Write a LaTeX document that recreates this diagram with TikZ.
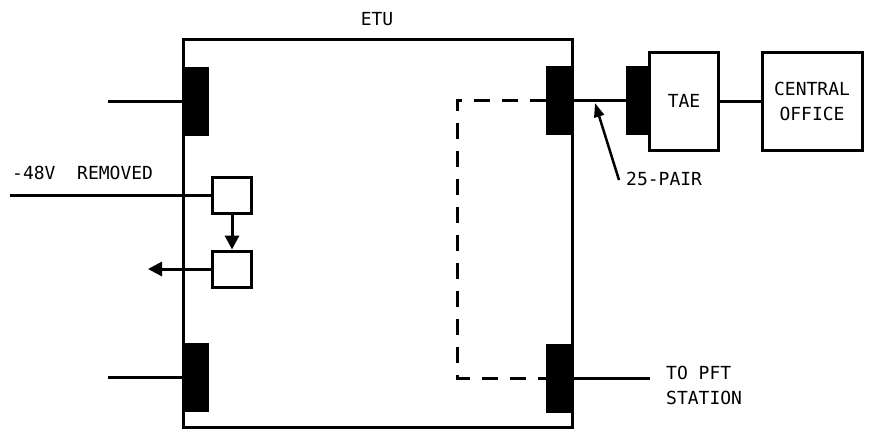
\documentclass[tikz,border=0pt]{standalone}
\usepackage{fontspec}
\setmonofont{DejaVu Sans Mono}
\usetikzlibrary{arrows.meta}
\tikzset{
  box/.style={draw, line width=3pt, inner sep=0pt},
  plug/.style={fill=black, inner sep=0pt, minimum width=26pt, minimum height=69pt},
  wire/.style={line width=3pt},
  lbl/.style={font=\ttfamily\fontsize{18}{25}\selectfont, inner sep=0pt, align=left}
}
\begin{document}
\begin{tikzpicture}[x=1pt, y=-1pt, >={Triangle[length=14pt, width=14pt]}]
\useasboundingbox (0,0) rectangle (874,431);
\node[box, minimum width=389pt, minimum height=388pt] (etu) at (377.5,233) {};
\node[lbl] (etulbl) at (377,19) {ETU};
\node[plug] (plugL1) at (196,101) {};
\node[plug] (plugL2) at (196,377) {};
\node[plug] (plugR1) at (559,100) {};
\node[plug] (plugR2) at (559,378) {};
\node[plug, minimum width=24pt] (plugT) at (638,100) {};
\node[box, lbl, minimum width=69pt, minimum height=98pt] (tae) at (684,101) {TAE};
\node[box, lbl, minimum width=100pt, minimum height=98pt, align=center] (co) at (812,101) {CENTRAL\\OFFICE};
\node[box, minimum width=39pt, minimum height=36pt] (rly1) at (232,195) {};
\node[box, minimum width=39pt, minimum height=36pt] (rly2) at (232,269) {};
\node[lbl, anchor=west] (minus) at (12,173) {-48V\ \ REMOVED};
\node[lbl, anchor=west] (pair) at (626,179) {25-PAIR};
\node[lbl, anchor=west] (pft) at (666,385) {TO PFT\\STATION};
\coordinate (inL1) at (108,101);
\coordinate (inL2) at (108,377);
\coordinate (inV) at (10,195);
\coordinate (outV) at (148,269);
\coordinate (outP) at (650,378);
\coordinate (dashT) at (457,100);
\coordinate (dashB) at (457,378);
\draw[wire] (inL1) -- (plugL1.west);
\draw[wire] (inL2) -- (plugL2.west);
\draw[wire] (inV) -- (rly1.west);
\draw[wire, ->] (rly1) -- (rly2);
\draw[wire, ->] (rly2.west) -- (outV);
\draw[wire] (plugR1.east) -- (plugT.west);
\draw[wire] (tae.east) -- (co.west);
\draw[wire] (plugR2.east) -- (outP);
\draw[wire, dashed, dash pattern=on 16pt off 12pt] (plugR1.west) -- (dashT) -- (dashB) -- (plugR2.west);
\draw[line width=2.5pt, -{Triangle[length=14pt, width=10pt]}] (619,180) -- (595,103);
\end{tikzpicture}
\end{document}
